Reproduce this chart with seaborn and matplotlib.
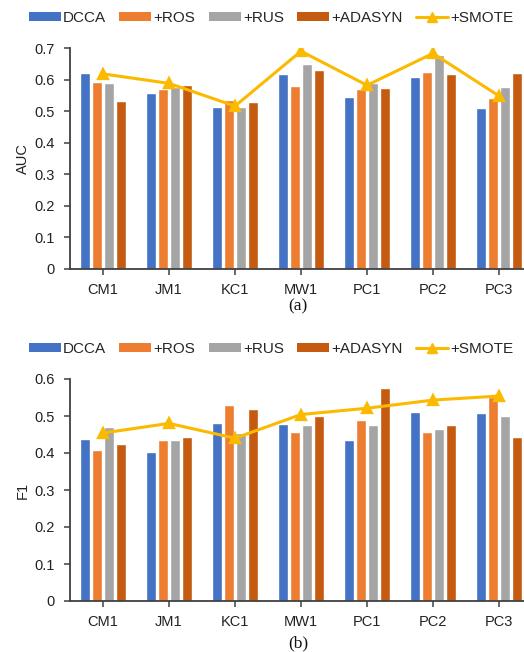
import matplotlib
matplotlib.use("Agg")
import matplotlib.pyplot as plt
import seaborn as sns
import pandas as pd
from matplotlib.patches import Patch
from matplotlib.lines import Line2D

datasets = ["CM1", "JM1", "KC1", "MW1", "PC1", "PC2", "PC3"]
methods = ["DCCA", "+ROS", "+RUS", "+ADASYN"]

auc_dcca = [0.620, 0.556, 0.512, 0.618, 0.546, 0.607, 0.511]
auc_ros = [0.592, 0.569, 0.535, 0.580, 0.570, 0.623, 0.543]
auc_rus = [0.588, 0.575, 0.512, 0.649, 0.590, 0.678, 0.577]
auc_adasyn = [0.533, 0.582, 0.529, 0.629, 0.572, 0.618, 0.622]
auc_smote = [0.618, 0.588, 0.516, 0.690, 0.582, 0.683, 0.548]

f1_dcca = [0.437, 0.404, 0.482, 0.479, 0.434, 0.510, 0.507]
f1_ros = [0.409, 0.436, 0.529, 0.457, 0.489, 0.457, 0.552]
f1_rus = [0.470, 0.434, 0.454, 0.477, 0.477, 0.464, 0.500]
f1_adasyn = [0.425, 0.443, 0.518, 0.501, 0.577, 0.475, 0.443]
f1_smote = [0.454, 0.480, 0.440, 0.504, 0.521, 0.543, 0.554]

bar_colors = ["#4472C4", "#ED7D31", "#A5A5A5", "#C55A11"]
line_color = "#FBBA00"
axis_color = "#404040"

sns.set_theme(style="white")
plt.rcParams["font.family"] = ["Liberation Sans", "DejaVu Sans"]

fig = plt.figure(figsize=(5.24, 6.52), dpi=100)
W, H = 524, 652


def panel(top_px, bottom_px, bars, smote, ymax, ylabel, caption, caption_y, legend_y):
    ax = fig.add_axes([70 / W, 1 - bottom_px / H, (W - 70) / W, (bottom_px - top_px) / H])
    long = pd.DataFrame({
        "dataset": datasets * len(methods),
        "method": [m for m in methods for _ in datasets],
        "value": [v for series in bars for v in series],
    })
    sns.barplot(data=long, x="dataset", y="value", hue="method", order=datasets,
                hue_order=methods, palette=bar_colors, width=0.73, gap=0.24,
                saturation=1, legend=False, ax=ax)
    sns.pointplot(x=datasets, y=smote, order=datasets, color=line_color,
                  markers="^", linestyles="-", linewidth=2.2, markersize=6.5,
                  ax=ax)
    ax.set_ylim(0, ymax)
    ax.set_xlim(-0.5, -0.5 + (W - 70) / 66)
    n = int(round(ymax * 10))
    ax.set_yticks([i / 10 for i in range(n + 1)])
    ax.set_yticklabels(["0"] + [f"{i / 10:.1f}" for i in range(1, n + 1)])
    ax.set_xlabel("")
    ax.set_ylabel(ylabel, fontsize=10.5, color="#222222", labelpad=3)
    for side in ["top", "right"]:
        ax.spines[side].set_visible(False)
    for side in ["left", "bottom"]:
        ax.spines[side].set_color(axis_color)
        ax.spines[side].set_linewidth(1.3)
    ax.tick_params(axis="both", which="both", length=4, width=1.1, color=axis_color,
                   labelsize=10.5, labelcolor="#222222", direction="out",
                   left=True, bottom=True)
    ax.tick_params(axis="y", pad=7)
    ax.tick_params(axis="x", pad=6)
    ax.grid(False)

    handles = [Patch(facecolor=c, edgecolor="none") for c in bar_colors]
    handles.append(Line2D([0], [0], color=line_color, lw=2.2, marker="^", markersize=6.5))
    fig.legend(handles, methods + ["+SMOTE"], loc="center", ncol=5,
               bbox_to_anchor=(271 / W, 1 - legend_y / H), frameon=False,
               fontsize=11, handlelength=2.1, handleheight=0.6,
               handletextpad=0.15, columnspacing=0.85, borderpad=0)
    fig.text(298 / W, 1 - caption_y / H, caption, ha="center", va="center",
             fontsize=12.5, family="Liberation Serif", color="#111111")
    return ax


panel(48, 269, [auc_dcca, auc_ros, auc_rus, auc_adasyn], auc_smote, 0.7, "AUC", "(a)", 306, 18)
panel(379, 601, [f1_dcca, f1_ros, f1_rus, f1_adasyn], f1_smote, 0.6, "F1", "(b)", 643, 349)

fig.savefig("out.png", dpi=100)
